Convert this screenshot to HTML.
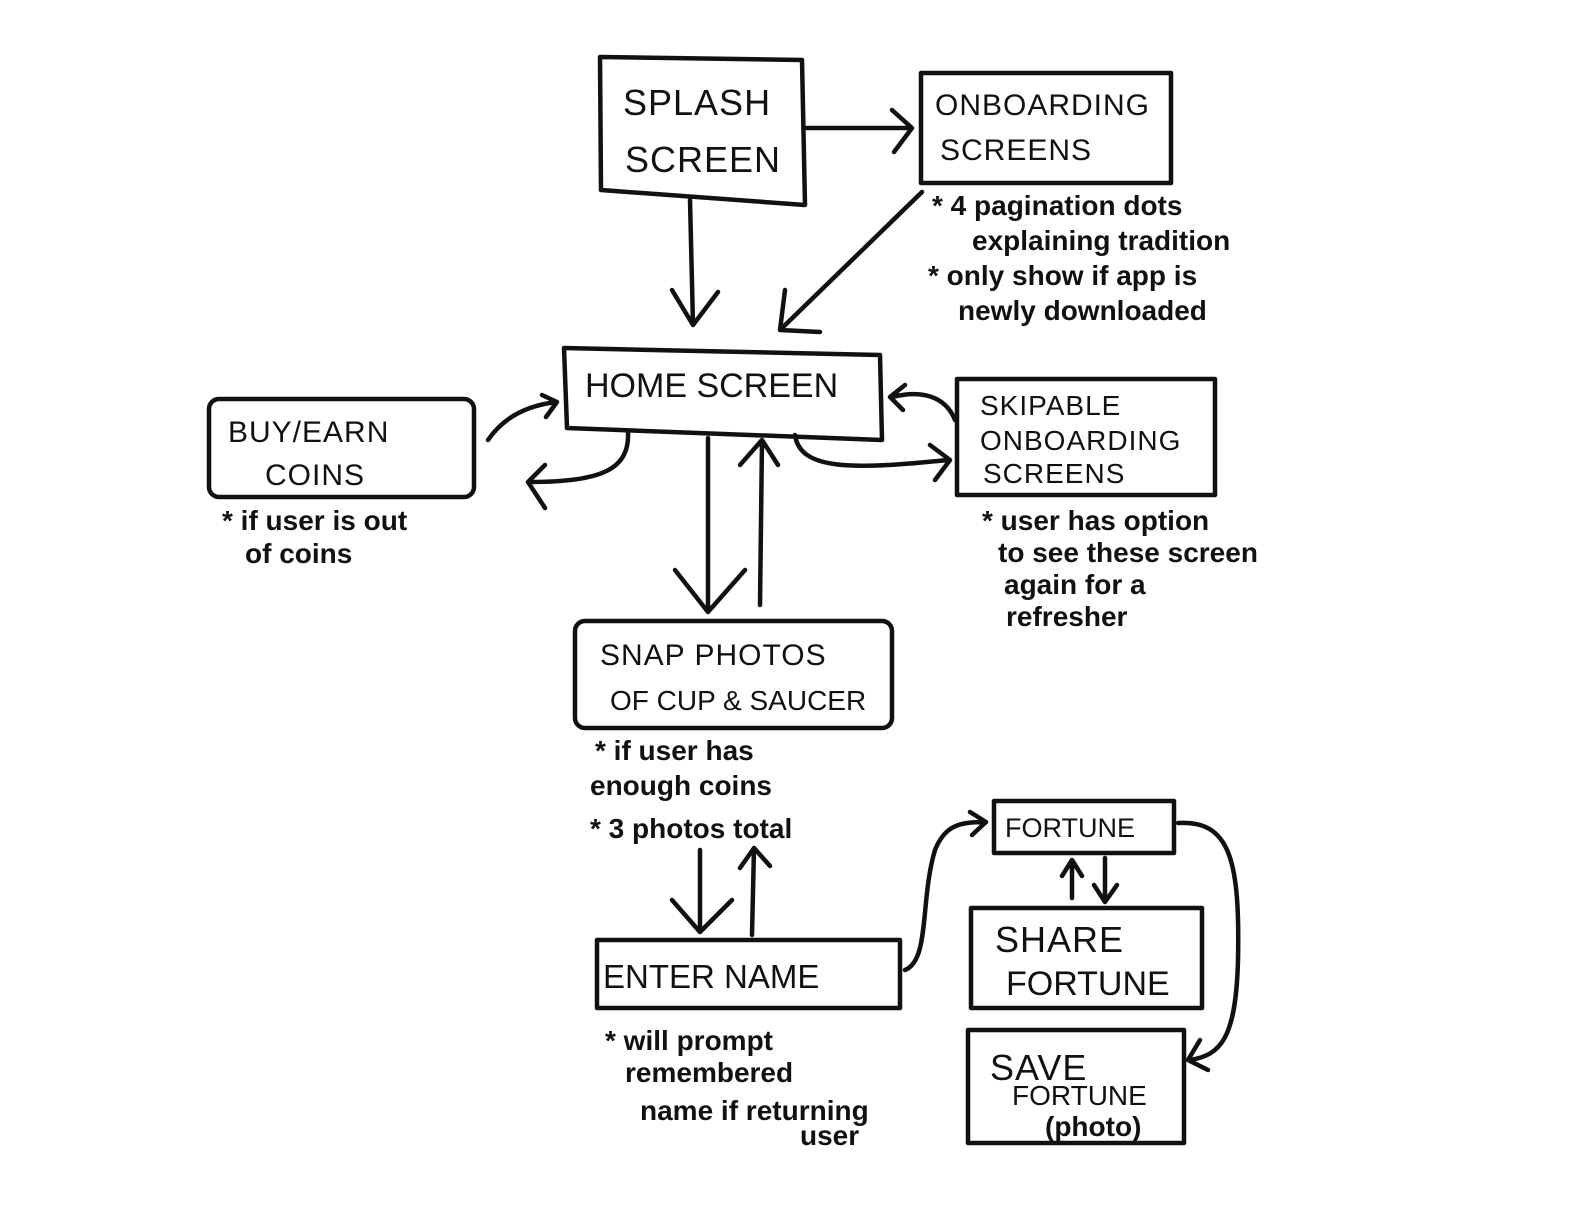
<!DOCTYPE html>
<html><head><meta charset="utf-8">
<style>
html,body{margin:0;padding:0;background:#fff;}
svg{display:block;}
text{font-family:"Liberation Sans",sans-serif;fill:#111;}
.b{font-size:36px;letter-spacing:1px;}
.s{font-size:30px;letter-spacing:1px;}
.n{font-size:28px;font-weight:bold;}
</style></head><body>
<svg width="1584" height="1224" viewBox="0 0 1584 1224" xmlns="http://www.w3.org/2000/svg">
<g fill="none" stroke="#111" stroke-width="4.5" stroke-linecap="round" stroke-linejoin="round">
<path d="M600 57 L802 60 L805 205 L601 190 Z"/>
<rect x="921" y="73" width="250" height="110"/>
<path d="M564 348 L880 355 L882 440 L567 428 Z"/>
<rect x="209" y="399" width="265" height="98" rx="10"/>
<rect x="957" y="379" width="258" height="116"/>
<rect x="575" y="621" width="317" height="107" rx="10"/>
<rect x="597" y="940" width="303" height="68"/>
<rect x="994" y="801" width="180" height="52"/>
<rect x="971" y="908" width="231" height="100"/>
<rect x="968" y="1030" width="216" height="113"/>
<path d="M807 128 L912 128 M892 110 L912 128 L894 152"/>
<path d="M690 200 L693 325 M672 290 L693 325 L718 292"/>
<path d="M922 192 L780 330 M785 290 L780 330 L820 332"/>
<path d="M488 440 C505 415 530 405 557 402 M542 395 L557 402 L546 417"/>
<path d="M628 432 C630 470 600 482 530 482 M545 465 L528 482 L545 508"/>
<path d="M955 420 C945 395 920 390 892 397 M905 385 L890 397 L903 410"/>
<path d="M795 435 C800 470 850 470 948 460 M930 445 L950 460 L935 480"/>
<path d="M708 438 L708 612 M675 570 L708 612 L745 570"/>
<path d="M760 605 L762 440 M740 465 L762 440 L778 465"/>
<path d="M700 850 L700 930 M672 900 L700 932 L732 900"/>
<path d="M752 935 L754 848 M740 868 L754 848 L770 866"/>
<path d="M905 970 C930 960 920 900 935 850 C945 825 960 822 985 822 M970 812 L986 822 L972 835"/>
<path d="M1072 898 L1072 862 M1062 876 L1072 860 L1082 876"/>
<path d="M1105 858 L1105 900 M1094 885 L1105 902 L1117 885"/>
<path d="M1178 823 C1230 820 1240 860 1238 960 C1236 1040 1220 1055 1190 1060 M1200 1040 L1188 1060 L1208 1070"/>
</g>
<text class="b" x="623" y="115">SPLASH</text>
<text class="b" x="625" y="172">SCREEN</text>
<text class="s" x="935" y="115">ONBOARDING</text>
<text class="s" x="940" y="160">SCREENS</text>
<text class="n" x="932" y="215">* 4 pagination dots</text>
<text class="n" x="972" y="250">explaining tradition</text>
<text class="n" x="928" y="285">* only show if app is</text>
<text class="n" x="958" y="320">newly downloaded</text>
<text x="585" y="397" style="font-size:34px">HOME  SCREEN</text>
<text class="s" x="228" y="442">BUY/EARN</text>
<text class="s" x="265" y="485">COINS</text>
<text class="n" x="222" y="530">* if user is out</text>
<text class="n" x="245" y="563">of coins</text>
<text class="s" x="980" y="415" style="font-size:28px">SKIPABLE</text>
<text class="s" x="980" y="450" style="font-size:28px">ONBOARDING</text>
<text class="s" x="983" y="483" style="font-size:28px">SCREENS</text>
<text class="n" x="982" y="530">* user  has option</text>
<text class="n" x="998" y="562">to see these screen</text>
<text class="n" x="1004" y="594">again for a</text>
<text class="n" x="1006" y="626">refresher</text>
<text class="s" x="600" y="665">SNAP PHOTOS</text>
<text x="610" y="710" style="font-size:28px">OF CUP &amp; SAUCER</text>
<text class="n" x="595" y="760">* if user has</text>
<text class="n" x="590" y="795">enough coins</text>
<text class="n" x="590" y="838">* 3 photos  total</text>
<text x="603" y="988" style="font-size:33px">ENTER NAME</text>
<text x="1005" y="837" style="font-size:27px">FORTUNE</text>
<text class="b" x="995" y="952">SHARE</text>
<text x="1006" y="995" style="font-size:34px">FORTUNE</text>
<text class="b" x="990" y="1080">SAVE</text>
<text x="1012" y="1105" style="font-size:28px">FORTUNE</text>
<text class="n" x="1045" y="1136">(photo)</text>
<text class="n" x="605" y="1050">* will prompt</text>
<text class="n" x="625" y="1082">remembered</text>
<text class="n" x="640" y="1120">name if returning</text>
<text class="n" x="800" y="1145">user</text>
</svg>
</body></html>
